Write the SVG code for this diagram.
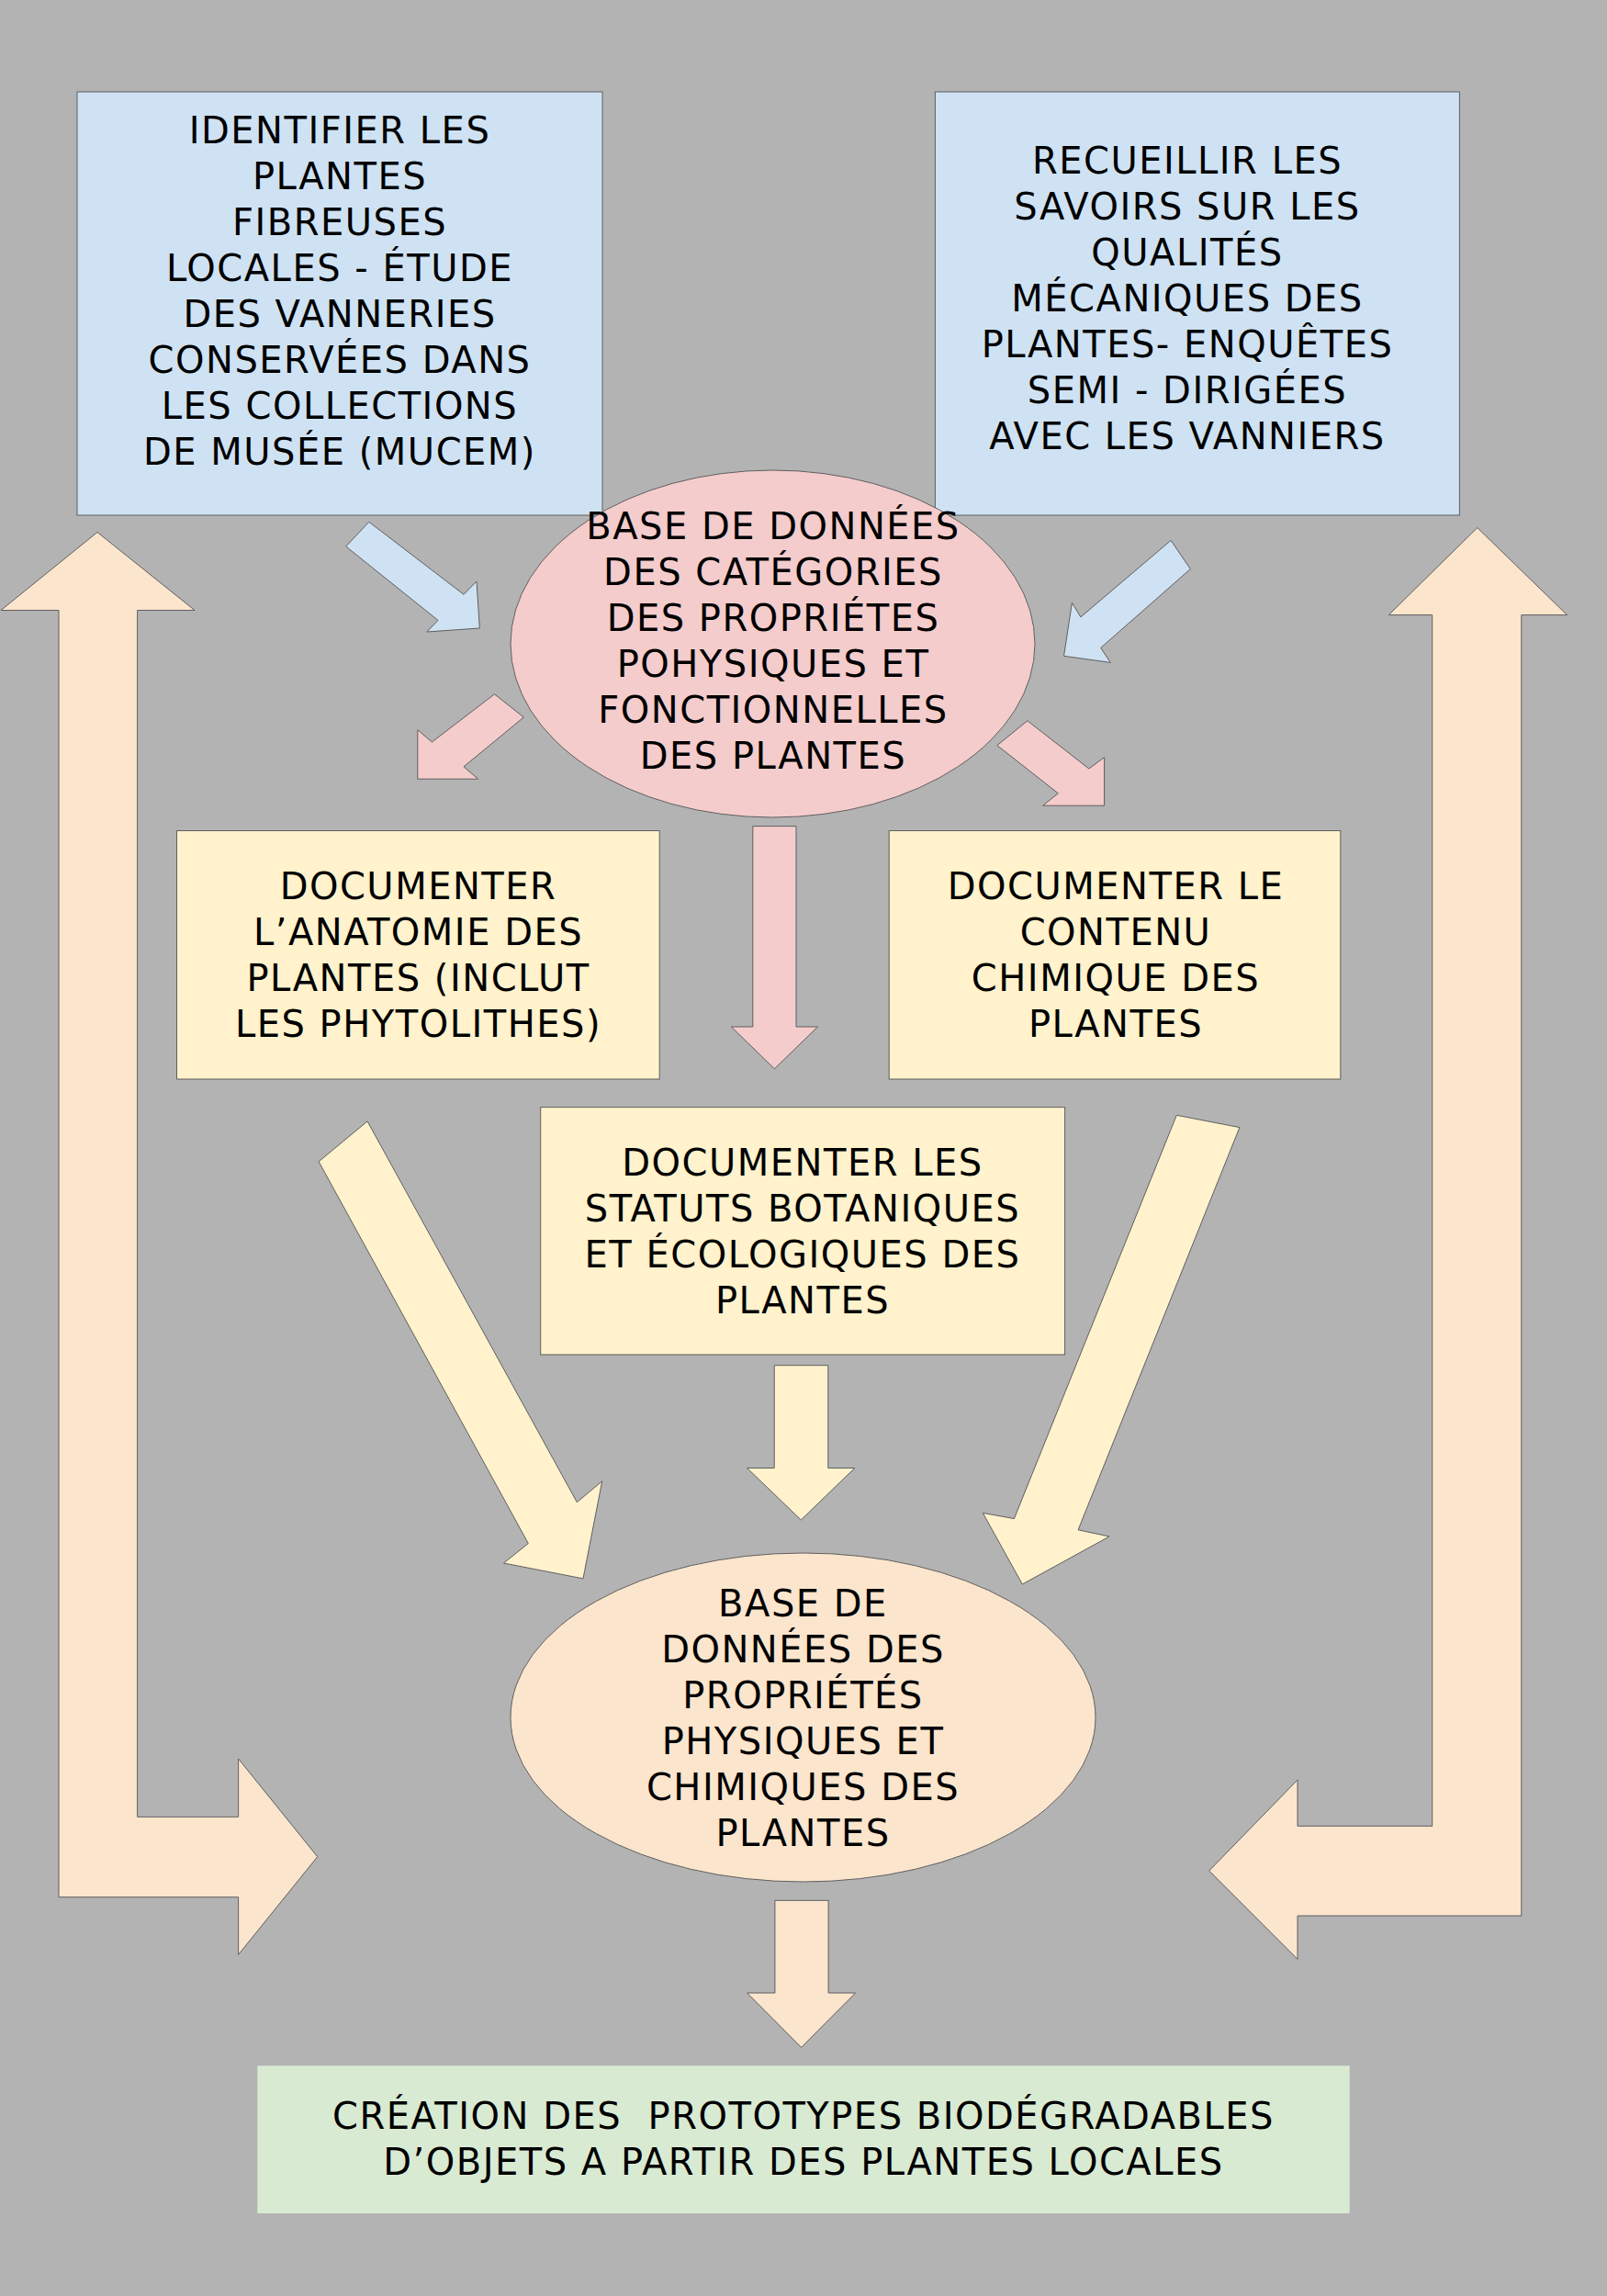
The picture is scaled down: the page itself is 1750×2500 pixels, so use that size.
<svg xmlns="http://www.w3.org/2000/svg" width="1750" height="2500" viewBox="0 0 1750 2500">
<style>
.t{font-family:"DejaVu Sans",Verdana,sans-serif;font-size:40px;letter-spacing:1.5px;fill:#000;text-anchor:middle}
.sh{stroke:#5f5f5f;stroke-width:1}
.blue{fill:#cfe2f3}.pink{fill:#f4cccc}.yel{fill:#fff2cc}.peach{fill:#fce5cd}.green{fill:#d9ead3}
</style>
<rect width="1750" height="2500" fill="#b3b3b3"/>
<g id="connectors">
<path class="peach sh" d="M106,579.5 L212,664.5 L149.6,664.5 L149.6,1978.3 L259.6,1978.3 L259.6,1915 L345.7,2021.7 L259.6,2128.3 L259.6,2065.7 L64,2065.7 L64,664.5 L1,664.5 Z"/>
<path class="peach sh" d="M1608.8,574.6 L1706.5,669.6 L1656.8,669.6 L1656.8,2086 L1413,2086 L1413,2133.3 L1316.7,2037 L1413,1938 L1413,1988.3 L1559.7,1988.3 L1559.7,669.6 L1512.3,669.6 Z"/>
<path class="blue sh" d="M401.8,568.3 L505,647.3 L519,633 L522.3,684 L464.8,688 L477,675.4 L376.7,595 Z"/>
<path class="blue sh" d="M1275.1,588.4 L1296.3,619.6 L1198.7,705.4 L1209.3,721.4 L1158.5,714.3 L1167.4,656.3 L1176.9,671.9 Z"/>
<path class="pink sh" d="M538.5,755.8 L570.3,781 L505,834.8 L520.6,848.2 L454.8,848.2 L454.8,794.6 L470.4,808 Z"/>
<path class="pink sh" d="M1118.9,784.8 L1185.8,837 L1202.6,824.6 L1202.6,877.2 L1135.6,877.2 L1152.3,863.8 L1085.9,811.6 Z"/>
<path class="pink sh" d="M819.8,899.6 L867,899.6 L867,1118 L890.5,1118 L843.4,1163.8 L796.3,1118 L819.8,1118 Z"/>
<path class="yel sh" d="M400.1,1220.9 L628.3,1635.7 L655.7,1612.8 L635,1718.9 L548.5,1702 L575.3,1680.6 L347.1,1264.8 Z"/>
<path class="yel sh" d="M1281.3,1214.3 L1349.9,1227.6 L1174.1,1665.8 L1208.1,1673 L1113.3,1725 L1070.3,1647.4 L1104.4,1653.6 Z"/>
<path class="yel sh" d="M843.2,1486.7 L901.8,1486.7 L901.8,1598.5 L930.8,1598.5 L872.3,1655 L813.6,1598.5 L843.2,1598.5 Z"/>
<path class="peach sh" d="M843.9,2069.3 L902.1,2069.3 L902.1,2170 L931.6,2170 L872.6,2229.3 L813.6,2170 L843.9,2170 Z"/>
</g>
<g id="node-identifier">
<rect class="blue sh" x="84" y="100" width="572" height="461"/>
<text class="t"><tspan x="370" y="156">IDENTIFIER LES</tspan><tspan x="370" y="206">PLANTES</tspan><tspan x="370" y="256">FIBREUSES</tspan><tspan x="370" y="306">LOCALES - ÉTUDE</tspan><tspan x="370" y="356">DES VANNERIES</tspan><tspan x="370" y="406">CONSERVÉES DANS</tspan><tspan x="370" y="456">LES COLLECTIONS</tspan><tspan x="370" y="506">DE MUSÉE (MUCEM)</tspan></text>
</g>
<g id="node-recueillir">
<rect class="blue sh" x="1018.4" y="100" width="571" height="461"/>
<text class="t"><tspan x="1293" y="189">RECUEILLIR LES</tspan><tspan x="1293" y="239">SAVOIRS SUR LES</tspan><tspan x="1293" y="289">QUALITÉS</tspan><tspan x="1293" y="339">MÉCANIQUES DES</tspan><tspan x="1293" y="389">PLANTES- ENQUÊTES</tspan><tspan x="1293" y="439">SEMI - DIRIGÉES</tspan><tspan x="1293" y="489">AVEC LES VANNIERS</tspan></text>
</g>
<g id="node-base-categories">
<ellipse class="pink sh" cx="841.5" cy="701" rx="285.5" ry="189"/>
<text class="t"><tspan x="842" y="587">BASE DE DONNÉES</tspan><tspan x="842" y="637">DES CATÉGORIES</tspan><tspan x="842" y="687">DES PROPRIÉTES</tspan><tspan x="842" y="737">POHYSIQUES ET</tspan><tspan x="842" y="787">FONCTIONNELLES</tspan><tspan x="842" y="837">DES PLANTES</tspan></text>
</g>
<g id="node-anatomie">
<rect class="yel sh" x="192.5" y="904.5" width="525.7" height="270.5"/>
<text class="t"><tspan x="455.5" y="979">DOCUMENTER</tspan><tspan x="455.5" y="1029">L’ANATOMIE DES</tspan><tspan x="455.5" y="1079">PLANTES (INCLUT</tspan><tspan x="455.5" y="1129">LES PHYTOLITHES)</tspan></text>
</g>
<g id="node-chimique">
<rect class="yel sh" x="968.2" y="904.5" width="491.6" height="270.5"/>
<text class="t"><tspan x="1215" y="979">DOCUMENTER LE</tspan><tspan x="1215" y="1029">CONTENU</tspan><tspan x="1215" y="1079">CHIMIQUE DES</tspan><tspan x="1215" y="1129">PLANTES</tspan></text>
</g>
<g id="node-statuts">
<rect class="yel sh" x="588.7" y="1205.6" width="570.9" height="269.4"/>
<text class="t"><tspan x="874" y="1280">DOCUMENTER LES</tspan><tspan x="874" y="1330">STATUTS BOTANIQUES</tspan><tspan x="874" y="1380">ET ÉCOLOGIQUES DES</tspan><tspan x="874" y="1430">PLANTES</tspan></text>
</g>
<g id="node-base-proprietes">
<ellipse class="peach sh" cx="874.5" cy="1870" rx="318.5" ry="179"/>
<text class="t"><tspan x="874.5" y="1760">BASE DE</tspan><tspan x="874.5" y="1810">DONNÉES DES</tspan><tspan x="874.5" y="1860">PROPRIÉTÉS</tspan><tspan x="874.5" y="1910">PHYSIQUES ET</tspan><tspan x="874.5" y="1960">CHIMIQUES DES</tspan><tspan x="874.5" y="2010">PLANTES</tspan></text>
</g>
<g id="node-creation">
<rect class="green" x="280.3" y="2249.3" width="1189.4" height="160.7"/>
<text class="t" xml:space="preserve"><tspan x="875" y="2318">CRÉATION DES  PROTOTYPES BIODÉGRADABLES</tspan><tspan x="875" y="2368">D’OBJETS A PARTIR DES PLANTES LOCALES</tspan></text>
</g>
</svg>
